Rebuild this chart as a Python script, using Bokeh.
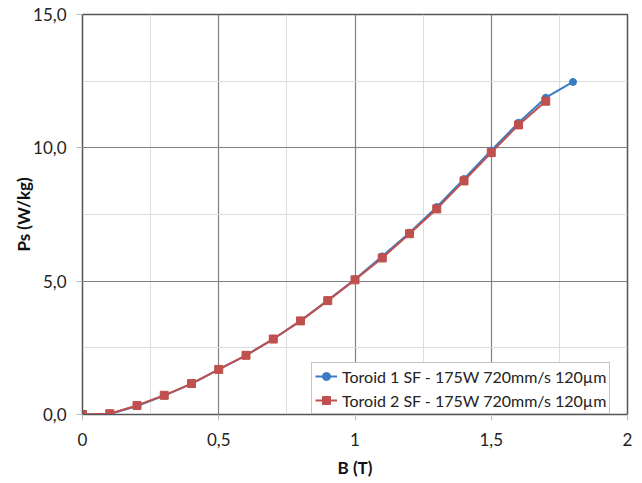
from bokeh.plotting import figure
from bokeh.models import FixedTicker, Legend, LegendItem
from bokeh.embed import file_html
from bokeh.resources import INLINE

b1 = [0.0, 0.1, 0.2, 0.3, 0.4, 0.5, 0.6, 0.7, 0.8, 0.9, 1.0, 1.1, 1.2, 1.3, 1.4, 1.5, 1.6, 1.7, 1.8]
ps1 = [0.0, 0.02, 0.32, 0.71, 1.15, 1.69, 2.22, 2.83, 3.51, 4.28, 5.07, 5.93, 6.82, 7.78, 8.83, 9.90, 10.94, 11.88, 12.47]
b2 = [0.0, 0.1, 0.2, 0.3, 0.4, 0.5, 0.6, 0.7, 0.8, 0.9, 1.0, 1.1, 1.2, 1.3, 1.4, 1.5, 1.6, 1.7]
ps2 = [0.0, 0.03, 0.34, 0.72, 1.16, 1.69, 2.22, 2.83, 3.51, 4.27, 5.05, 5.87, 6.78, 7.71, 8.76, 9.82, 10.86, 11.75]

x_ticks = [0, 0.5, 1, 1.5, 2]
x_labels = ["0", "0,5", "1", "1,5", "2"]
x_minor = [0.25, 0.75, 1.25, 1.75]
y_ticks = [0, 5, 10, 15]
y_labels = ["0,0", "5,0", "10,0", "15,0"]
y_minor = [2.5, 7.5, 12.5]

label1 = "Toroid 1 SF - 175W 720mm/s 120\u00b5m"
label2 = "Toroid 2 SF - 175W 720mm/s 120\u00b5m"

FONT = "Lato"
blue = "#3a7cc4"
red = "#c0504d"

p = figure(frame_width=545, frame_height=400, x_range=(0, 2), y_range=(0, 15),
           output_backend="svg", toolbar_location=None,
           min_border_left=82, min_border_right=11, min_border_top=14, min_border_bottom=62)
p.outline_line_color = "#555555"
p.outline_line_width = 1.5
p.background_fill_color = "white"
p.border_fill_color = "white"

p.xaxis.ticker = FixedTicker(ticks=x_ticks, minor_ticks=x_minor)
p.yaxis.ticker = FixedTicker(ticks=y_ticks, minor_ticks=y_minor)
p.xaxis.major_label_overrides = {t: l for t, l in zip(x_ticks, x_labels)}
p.yaxis.major_label_overrides = {t: l for t, l in zip(y_ticks, y_labels)}

for ax in (p.xaxis, p.yaxis):
    ax.axis_line_color = "#555555"
    ax.major_tick_in = 0
    ax.major_tick_out = 6
    ax.major_tick_line_color = "#bbbbbb"
    ax.minor_tick_line_color = None
    ax.major_label_text_font = FONT
    ax.major_label_text_font_size = "17px"
    ax.major_label_text_color = "#222222"
    ax.axis_label_text_font = FONT
    ax.axis_label_text_font_size = "17px"
    ax.axis_label_text_font_style = "bold"
    ax.axis_label_text_color = "#111111"

p.xaxis.major_label_standoff = 12
p.yaxis.major_label_standoff = 10
p.xaxis.axis_label = "B (T)"
p.yaxis.axis_label = "Ps (W/kg)"
p.xaxis.axis_label_standoff = 8
p.yaxis.axis_label_standoff = -4

for g in (p.xgrid, p.ygrid):
    g.grid_line_color = "#808080"
    g.grid_line_width = 1.2
    g.minor_grid_line_color = "#dddddd"
    g.minor_grid_line_width = 1

l1 = p.line(b1, ps1, line_color=blue, line_width=2)
s1 = p.scatter(b1, ps1, marker="circle", size=7, fill_color=blue, line_color=blue)
l2 = p.line(b2, ps2, line_color=red, line_width=2)
s2 = p.scatter(b2, ps2, marker="square", size=8, fill_color=red, line_color=red)

legend = Legend(items=[LegendItem(label=label1, renderers=[l1, s1]),
                       LegendItem(label=label2, renderers=[l2, s2])],
                location=(229, 0))
legend.label_text_font = FONT
legend.label_text_font_size = "16px"
legend.label_text_color = "#222222"
legend.glyph_width = 22
legend.glyph_height = 20
legend.label_height = 20
legend.label_standoff = 5
legend.spacing = 4
legend.padding = 3
legend.margin = 0
legend.border_line_color = "#888888"
legend.border_line_width = 1
legend.background_fill_alpha = 1
p.add_layout(legend, "center")

open("out.html", "w").write(file_html(p, INLINE))
